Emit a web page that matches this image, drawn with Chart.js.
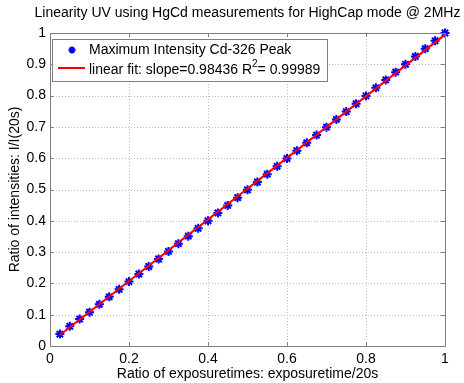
<!DOCTYPE html>
<html>
<head>
<meta charset="utf-8">
<script src="https://cdn.jsdelivr.net/npm/chart.js@4"></script>
<style>
  html, body { margin: 0; padding: 0; background: #fff; }
  #wrap { width: 464px; height: 383px; }
</style>
</head>
<body>
<div id="wrap"><canvas id="lin"></canvas></div>
<script>
// exposure ratio t/20s and measured intensity ratio I/I(20s)
var exposureRatio = [0.025, 0.05, 0.075, 0.1, 0.125, 0.15, 0.175, 0.2, 0.225, 0.25,
  0.275, 0.3, 0.325, 0.35, 0.375, 0.4, 0.425, 0.45, 0.475, 0.5,
  0.525, 0.55, 0.575, 0.6, 0.625, 0.65, 0.675, 0.7, 0.725, 0.75,
  0.775, 0.8, 0.825, 0.85, 0.875, 0.9, 0.925, 0.95, 0.975, 1.0];
var intensityRatio = [0.038, 0.063, 0.086, 0.108, 0.133, 0.157, 0.181, 0.206, 0.230, 0.254,
  0.278, 0.302, 0.327, 0.351, 0.376, 0.400, 0.425, 0.449, 0.474, 0.499,
  0.524, 0.549, 0.574, 0.599, 0.624, 0.649, 0.674, 0.699, 0.724, 0.749,
  0.774, 0.799, 0.825, 0.850, 0.875, 0.900, 0.925, 0.950, 0.975, 1.000];
var fitSlope = 0.98436;
var fitIntercept = 0.0105;
var fitR2 = '0.99989';
var xTickLabels = ['0', '0.2', '0.4', '0.6', '0.8', '1'];
var yTickLabels = ['0', '0.1', '0.2', '0.3', '0.4', '0.5', '0.6', '0.7', '0.8', '0.9', '1'];

var FONT = '"Liberation Sans", Arial, sans-serif';
var points = exposureRatio.map(function (x, i) { return { x: x, y: intensityRatio[i] }; });
var x0 = exposureRatio[0], x1 = exposureRatio[exposureRatio.length - 1];
var fitLine = [{ x: x0, y: fitIntercept + fitSlope * x0 }, { x: x1, y: fitIntercept + fitSlope * x1 }];

// dotted grid under the data
var dottedGrid = {
  id: 'dottedGrid',
  beforeDatasetsDraw: function (chart) {
    var ctx = chart.ctx, a = chart.chartArea;
    var sx = chart.scales.x, sy = chart.scales.y;
    ctx.save();
    ctx.strokeStyle = '#bdbdbd';
    ctx.lineWidth = 1;
    ctx.setLineDash([1, 2]);
    ctx.beginPath();
    sx.ticks.forEach(function (t) {
      var px = Math.round(sx.getPixelForValue(t.value)) + 0.5;
      ctx.moveTo(px, a.top); ctx.lineTo(px, a.bottom);
    });
    sy.ticks.forEach(function (t) {
      var py = Math.round(sy.getPixelForValue(t.value)) + 0.5;
      ctx.moveTo(a.left, py); ctx.lineTo(a.right, py);
    });
    ctx.stroke();
    ctx.restore();
  }
};

// matlab-ish frame: box, inward ticks, title and legend inside the axes
var matlabFrame = {
  id: 'matlabFrame',
  afterDraw: function (chart) {
    var ctx = chart.ctx, a = chart.chartArea;
    var sx = chart.scales.x, sy = chart.scales.y;
    ctx.save();
    ctx.strokeStyle = '#7f7f7f';
    ctx.lineWidth = 1;
    ctx.strokeRect(Math.round(a.left) + 0.5, Math.round(a.top) + 0.5,
      Math.round(a.right - a.left), Math.round(a.bottom - a.top));
    ctx.beginPath();
    sx.ticks.forEach(function (t) {
      var px = Math.round(sx.getPixelForValue(t.value)) + 0.5;
      ctx.moveTo(px, a.bottom); ctx.lineTo(px, a.bottom - 4);
      ctx.moveTo(px, a.top); ctx.lineTo(px, a.top + 4);
    });
    sy.ticks.forEach(function (t) {
      var py = Math.round(sy.getPixelForValue(t.value)) + 0.5;
      ctx.moveTo(a.left, py); ctx.lineTo(a.left + 4, py);
      ctx.moveTo(a.right, py); ctx.lineTo(a.right - 4, py);
    });
    ctx.stroke();

    // title
    ctx.fillStyle = '#000';
    ctx.font = '14px ' + FONT;
    ctx.textAlign = 'center';
    ctx.textBaseline = 'middle';
    ctx.fillText('Linearity UV using HgCd measurements for HighCap mode @ 2MHz', (a.left + a.right) / 2, 13);

    // legend
    var lx = 52, ly = 39, lw = 275, lh = 42;
    ctx.fillStyle = '#fff';
    ctx.fillRect(lx, ly, lw, lh);
    ctx.strokeStyle = '#7f7f7f';
    ctx.strokeRect(lx + 0.5, ly + 0.5, lw, lh);
    ctx.strokeStyle = '#0000ff';
    ctx.lineWidth = 2;
    var mx = 72, my = 50, r = 3.5;
    ctx.beginPath();
    for (var k = 0; k < 4; k++) {
      var ang = k * Math.PI / 4;
      ctx.moveTo(mx - r * Math.cos(ang), my - r * Math.sin(ang));
      ctx.lineTo(mx + r * Math.cos(ang), my + r * Math.sin(ang));
    }
    ctx.stroke();
    ctx.strokeStyle = '#ff0000';
    ctx.beginPath();
    ctx.moveTo(58, 68); ctx.lineTo(85, 68);
    ctx.stroke();
    ctx.fillStyle = '#000';
    ctx.textAlign = 'left';
    ctx.font = '14px ' + FONT;
    ctx.fillText('Maximum Intensity Cd-326 Peak', 89, 50);
    var s1 = 'linear fit: slope=' + fitSlope + ' R';
    ctx.fillText(s1, 89, 70);
    var w1 = ctx.measureText(s1).width;
    ctx.font = '10px ' + FONT;
    ctx.fillText('2', 89 + w1, 64);
    var w2 = ctx.measureText('2').width;
    ctx.font = '14px ' + FONT;
    ctx.fillText('= ' + fitR2, 89 + w1 + w2, 70);
    ctx.restore();
  }
};

new Chart(document.getElementById('lin').getContext('2d'), {
  type: 'scatter',
  data: {
    datasets: [
      {
        label: 'Maximum Intensity Cd-326 Peak',
        data: points,
        pointStyle: 'star',
        pointRadius: 4.5,
        pointBorderWidth: 2,
        borderColor: '#0000ff',
        backgroundColor: '#0000ff',
        clip: false,
        order: 2
      },
      {
        label: 'linear fit',
        type: 'line',
        data: fitLine,
        borderColor: '#ff0000',
        borderWidth: 2,
        pointRadius: 0,
        fill: false,
        order: 1
      }
    ]
  },
  options: {
    responsive: true,
    maintainAspectRatio: false,
    animation: false,
    layout: { padding: { top: 33, right: 19, left: 0, bottom: 0 } },
    plugins: {
      legend: { display: false },
      title: { display: false },
      tooltip: { enabled: false }
    },
    scales: {
      x: {
        type: 'linear',
        min: 0, max: 1,
        afterFit: function (s) { s.height = 37; },
        ticks: {
          stepSize: 0.2,
          color: '#000',
          font: { family: FONT, size: 14 },
          padding: 5,
          maxRotation: 0,
          callback: function (v, i) { return xTickLabels[i]; }
        },
        grid: { display: false, drawTicks: false, tickLength: 0 },
        border: { display: false },
        title: {
          display: true,
          text: 'Ratio of exposuretimes: exposuretime/20s',
          color: '#000',
          font: { family: FONT, size: 14 },
          padding: { top: 0, bottom: 0 }
        }
      },
      y: {
        type: 'linear',
        min: 0, max: 1,
        afterFit: function (s) { s.width = 50; },
        ticks: {
          stepSize: 0.1,
          color: '#000',
          font: { family: FONT, size: 14 },
          padding: 4,
          callback: function (v, i) { return yTickLabels[i]; }
        },
        grid: { display: false, drawTicks: false, tickLength: 0 },
        border: { display: false },
        title: {
          display: true,
          text: 'Ratio of intensities: I/I(20s)',
          color: '#000',
          font: { family: FONT, size: 14 },
          padding: { top: 7, bottom: 0 }
        }
      }
    }
  },
  plugins: [dottedGrid, matlabFrame]
});
</script>
</body>
</html>
